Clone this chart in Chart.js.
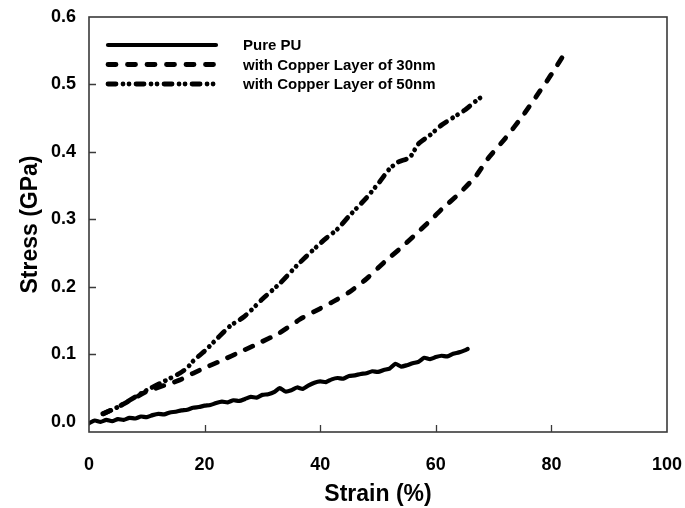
<!DOCTYPE html>
<html>
<head>
<meta charset="utf-8">
<script src="https://cdn.jsdelivr.net/npm/chart.js@4"></script>
<style>
  body { margin: 0; background: #fff; }
  canvas { display: block; }
</style>
</head>
<body>
<canvas id="stressChart" width="685" height="508"></canvas>
<script>
// Data
const seriesLabels = [
  "Pure PU",
  "with Copper Layer of 30nm",
  "with Copper Layer of 50nm",
];

const purePuStrain = [
  0, 1, 2, 3, 4, 5, 6, 7, 8, 9, 10, 11, 12, 13, 14, 15, 16, 17, 18, 19, 20,
  21, 22, 23, 24, 25, 26, 27, 28, 29, 30, 31, 32, 33, 34, 35, 36, 37, 38, 39,
  40, 41, 42, 43, 44, 45, 46, 47, 48, 49, 50, 51, 52, 53, 54, 55, 56, 57, 58,
  59, 60, 61, 62, 63, 64, 65, 65.5,
];
const purePuStress = [
  -0.002, 0.002, 0.0, 0.003, 0.001, 0.004, 0.003, 0.006, 0.005, 0.008, 0.007,
  0.01, 0.012, 0.011, 0.014, 0.015, 0.017, 0.018, 0.021, 0.022, 0.024, 0.025,
  0.028, 0.03, 0.029, 0.032, 0.031, 0.034, 0.037, 0.036, 0.04, 0.041, 0.044,
  0.05, 0.045, 0.047, 0.051, 0.049, 0.054, 0.058, 0.06, 0.059, 0.063, 0.065,
  0.064, 0.068, 0.069, 0.071, 0.072, 0.075, 0.074, 0.077, 0.079, 0.086, 0.082,
  0.084, 0.087, 0.089, 0.095, 0.093, 0.096, 0.098, 0.097, 0.101, 0.103, 0.106,
  0.108,
];

const cu30Strain = [
  2.5, 5, 8, 10, 13, 15.7, 18, 20, 23.2, 26, 29, 33, 36.5, 40, 42.2, 45, 48,
  51.5, 54, 57, 59, 61, 64, 67, 69, 72, 75, 78, 80, 82,
];
const cu30Stress = [
  0.012, 0.022, 0.036, 0.045, 0.054, 0.062, 0.072, 0.08, 0.092, 0.103, 0.115,
  0.132, 0.152, 0.168, 0.178, 0.192, 0.212, 0.24, 0.258, 0.282, 0.298, 0.315,
  0.338, 0.365, 0.39, 0.42, 0.453, 0.49, 0.515, 0.542,
];

const cu50Strain = [
  2.4, 5, 8, 10, 13, 15.7, 17, 18, 20, 22, 24.4, 26.7, 28, 30, 33, 36, 38.8,
  41, 42.9, 45, 48, 50.3, 52, 53.5, 55.5, 57, 59, 61, 63, 65, 67, 68.3,
];
const cu50Stress = [
  0.012, 0.022, 0.037, 0.047, 0.06, 0.072, 0.08, 0.09, 0.105, 0.122, 0.142,
  0.155, 0.165, 0.182, 0.205, 0.232, 0.255, 0.272, 0.285, 0.305, 0.332, 0.356,
  0.375, 0.385, 0.392, 0.412, 0.425, 0.44, 0.451, 0.462, 0.476, 0.484,
];

const xTicks = [0, 20, 40, 60, 80, 100];
const yTicks = [0, 0.1, 0.2, 0.3, 0.4, 0.5, 0.6];

const fontFamily = "'Liberation Sans', Arial, sans-serif";

function toPoints(xs, ys) {
  return xs.map((x, i) => ({ x: x, y: ys[i] }));
}

const lineStyles = [
  { borderWidth: 4.2, borderDash: [], borderCapStyle: "round" },
  { borderWidth: 4.8, borderDash: [8, 11.5], borderCapStyle: "round" },
  { borderWidth: 4.8, borderDash: [8, 7, 0.01, 6, 0.01, 7], borderCapStyle: "round" },
];

// frame, inside ticks and the legend box
const framePlugin = {
  id: "frame",
  afterDraw(chart) {
    const { ctx, chartArea: a, scales } = chart;
    ctx.save();
    ctx.strokeStyle = "#3a3a3a";
    ctx.lineWidth = 1.6;
    ctx.strokeRect(a.left, a.top, a.right - a.left, a.bottom - a.top);

    ctx.lineWidth = 1.3;
    ctx.beginPath();
    xTicks.slice(1, -1).forEach((v) => {
      const px = Math.round(scales.x.getPixelForValue(v)) + 0.5;
      ctx.moveTo(px, a.bottom);
      ctx.lineTo(px, a.bottom - 7);
    });
    yTicks.slice(1, -1).forEach((v) => {
      const py = Math.round(scales.y.getPixelForValue(v)) + 0.5;
      ctx.moveTo(a.left, py);
      ctx.lineTo(a.left + 7, py);
    });
    ctx.stroke();

    // legend
    ctx.font = "bold 15px " + fontFamily;
    ctx.fillStyle = "#000";
    ctx.textBaseline = "middle";
    chart.data.datasets.forEach((ds, i) => {
      const y = a.top + 28 + i * 19.5;
      ctx.strokeStyle = "#000";
      ctx.lineWidth = ds.borderWidth;
      ctx.lineCap = ds.borderCapStyle;
      ctx.setLineDash(ds.borderDash);
      ctx.beginPath();
      ctx.moveTo(a.left + 19, y);
      ctx.lineTo(a.left + 127, y);
      ctx.stroke();
      ctx.setLineDash([]);
      ctx.fillText(ds.label, a.left + 154, y + 1);
    });
    ctx.restore();
  },
};

const ctx = document.getElementById("stressChart").getContext("2d");
const stressChart = new Chart(ctx, {
  type: "line",
  data: {
    datasets: [
      Object.assign({ label: seriesLabels[0], data: toPoints(purePuStrain, purePuStress) }, lineStyles[0]),
      Object.assign({ label: seriesLabels[1], data: toPoints(cu30Strain, cu30Stress) }, lineStyles[1]),
      Object.assign({ label: seriesLabels[2], data: toPoints(cu50Strain, cu50Stress) }, lineStyles[2]),
    ].map((ds) =>
      Object.assign(ds, {
        borderColor: "#000",
        backgroundColor: "#000",
        pointRadius: 0,
        fill: false,
        tension: 0.2,
        borderJoinStyle: "round",
      })
    ),
  },
  options: {
    responsive: false,
    animation: false,
    layout: { padding: { left: 0, right: 18, top: 17, bottom: 0 } },
    plugins: {
      legend: { display: false },
      tooltip: { enabled: false },
    },
    scales: {
      x: {
        type: "linear",
        min: 0,
        max: 100,
        afterBuildTicks: (scale) => {
          scale.ticks = xTicks.map((v) => ({ value: v }));
        },
        afterFit: (scale) => {
          scale.height = 76;
          scale.paddingLeft = 0;
          scale.paddingRight = 0;
        },
        grid: { display: false, drawTicks: false },
        border: { display: false },
        ticks: {
          color: "#000",
          padding: 22,
          maxRotation: 0,
          font: { family: fontFamily, size: 18, weight: "bold" },
        },
        title: {
          display: true,
          text: "Strain (%)",
          color: "#000",
          padding: { top: 0, bottom: 0 },
          font: { family: fontFamily, size: 23, weight: "bold" },
        },
      },
      y: {
        type: "linear",
        min: -0.015,
        max: 0.6,
        afterBuildTicks: (scale) => {
          scale.ticks = yTicks.map((v) => ({ value: v }));
        },
        afterFit: (scale) => {
          scale.width = 89;
          scale.paddingTop = 0;
          scale.paddingBottom = 0;
        },
        grid: { display: false, drawTicks: false },
        border: { display: false },
        ticks: {
          color: "#000",
          padding: 13,
          callback: (v) => Number(v).toFixed(1),
          font: { family: fontFamily, size: 18, weight: "bold" },
        },
        title: {
          display: true,
          text: "Stress (GPa)",
          color: "#000",
          padding: { top: 17, bottom: 0 },
          font: { family: fontFamily, size: 23, weight: "bold" },
        },
      },
    },
  },
  plugins: [framePlugin],
});
</script>
</body>
</html>
